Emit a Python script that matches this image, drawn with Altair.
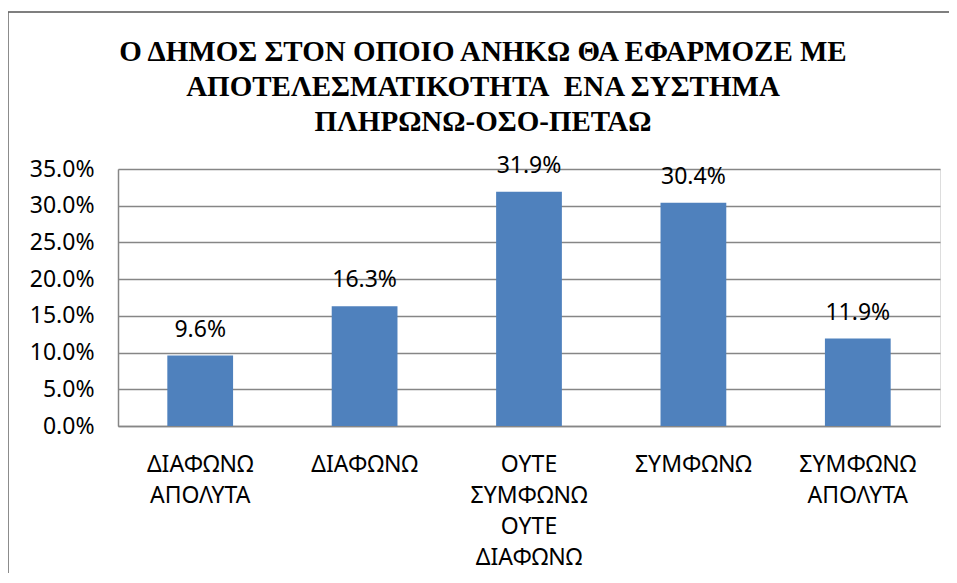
import altair as alt
import pandas as pd

categories = ["ΔΙΑΦΩΝΩ ΑΠΟΛΥΤΑ", "ΔΙΑΦΩΝΩ", "ΟΥΤΕ ΣΥΜΦΩΝΩ ΟΥΤΕ ΔΙΑΦΩΝΩ", "ΣΥΜΦΩΝΩ", "ΣΥΜΦΩΝΩ ΑΠΟΛΥΤΑ"]
values = [0.096, 0.163, 0.319, 0.304, 0.119]
title_lines = ["Ο ΔΗΜΟΣ ΣΤΟΝ ΟΠΟΙΟ ΑΝΗΚΩ ΘΑ ΕΦΑΡΜΟΖΕ ΜΕ",
               "ΑΠΟΤΕΛΕΣΜΑΤΙΚΟΤΗΤΑ\u00a0 ΕΝΑ ΣΥΣΤΗΜΑ",
               "ΠΛΗΡΩΝΩ-ΟΣΟ-ΠΕΤΑΩ"]
y_ticks = [0, 0.05, 0.10, 0.15, 0.20, 0.25, 0.30, 0.35]

df = pd.DataFrame({"cat": categories, "val": values})
one = pd.DataFrame({"t": [title_lines]})

FONT = "Noto Sans"
GRID = "#868686"

x_enc = alt.X("cat:N", sort=categories, title=None,
              scale=alt.Scale(paddingInner=0.6, paddingOuter=0.3),
              axis=alt.Axis(labelExpr="split(datum.label, ' ')", labelAngle=0,
                            labelFont=FONT, labelFontSize=23, labelColor="#000000",
                            labelLineHeight=31, labelPadding=27, labelBaseline="top",
                            ticks=False, domainColor=GRID, domainWidth=1.5))
y_enc = alt.Y("val:Q", title=None,
              scale=alt.Scale(domain=[0, 0.35], nice=False, zero=True),
              axis=alt.Axis(values=y_ticks, format=".1%", labelFont=FONT,
                            labelFontSize=23, labelColor="#000000", labelPadding=24,
                            labelOverlap=False, labelBound=False, ticks=False, grid=True,
                            gridColor=GRID, gridWidth=1.5,
                            domainColor=GRID, domainWidth=1.5))

bars = alt.Chart(df).mark_bar(color="#4F81BD").encode(x=x_enc, y=y_enc)

labels = alt.Chart(df).mark_text(font=FONT, fontSize=23, color="#000000",
                                 baseline="alphabetic", dy=-19).encode(
    x=x_enc, y=y_enc,
    text=alt.Text("val:Q", format=".1%"))

title = alt.Chart(one).mark_text(font="Liberation Serif", fontSize=29, fontWeight="bold",
                                 color="#000000", align="center", baseline="alphabetic",
                                 lineHeight=35).encode(
    text="t", x=alt.value(365), y=alt.value(-108))

frame_top = alt.Chart(one).mark_rule(stroke="#555555", strokeWidth=1.5).encode(
    x=alt.value(-110), x2=alt.value(831), y=alt.value(-157))
frame_left = alt.Chart(one).mark_rule(stroke="#666666", strokeWidth=1.5).encode(
    x=alt.value(-110), y=alt.value(-157), y2=alt.value(404))

chart = alt.layer(frame_top, frame_left, bars, labels, title).properties(
    width=822, height=257,
    padding={"left": 110, "top": 161, "right": 9, "bottom": 147},
    autosize=alt.AutoSizeParams(type="none"),
).configure_view(stroke=None).configure(background="#ffffff")

chart.save("out.html", embed_options={"renderer": "svg", "actions": False})
